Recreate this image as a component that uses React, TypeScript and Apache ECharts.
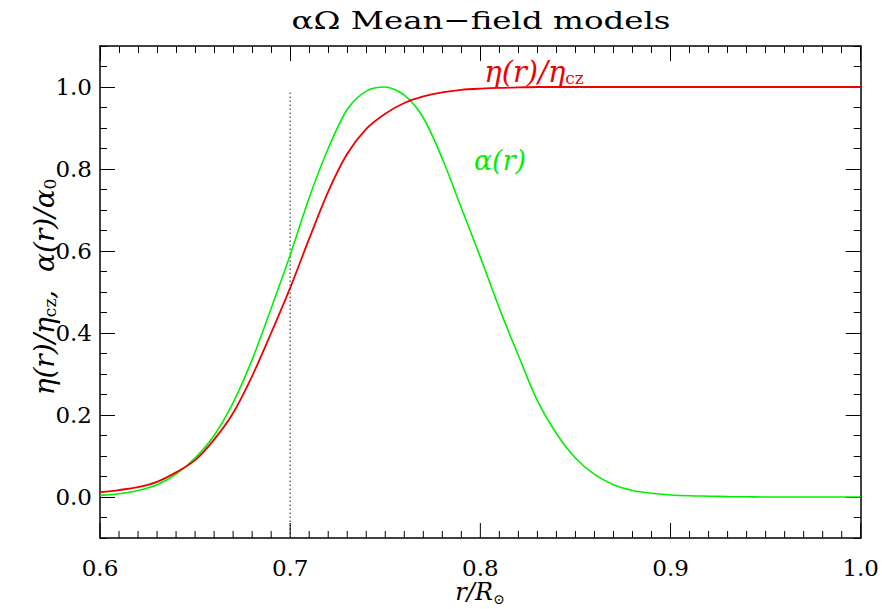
import React, { useEffect, useRef } from "react";
import * as echarts from "echarts";

const R = [
  0.6, 0.61, 0.62, 0.63, 0.64, 0.65, 0.66, 0.67, 0.68, 0.69, 0.7, 0.71, 0.72, 0.73, 0.74, 0.75, 0.76, 0.77, 0.78, 0.79,
  0.8, 0.81, 0.82, 0.83, 0.84, 0.85, 0.86, 0.87, 0.88, 0.89, 0.9, 0.91, 0.92, 0.93, 0.94, 0.95, 0.96, 0.97, 0.98, 0.99, 1.0,
];
const ETA = [
  0.012, 0.017, 0.024, 0.037, 0.06, 0.09, 0.14, 0.205, 0.295, 0.4, 0.51, 0.63, 0.745, 0.837, 0.898, 0.935, 0.961, 0.977, 0.987, 0.993,
  0.996, 0.998, 0.999, 1.0, 1.0, 1.0, 1.0, 1.0, 1.0, 1.0, 1.0, 1.0, 1.0, 1.0, 1.0, 1.0, 1.0, 1.0, 1.0, 1.0, 1.0,
];
const ALPHA = [
  0.004, 0.008, 0.016, 0.03, 0.056, 0.095, 0.15, 0.23, 0.335, 0.46, 0.59, 0.73, 0.85, 0.945, 0.99, 1.0, 0.98, 0.925, 0.825, 0.705,
  0.585, 0.46, 0.345, 0.235, 0.155, 0.095, 0.055, 0.03, 0.016, 0.009, 0.005, 0.003, 0.002, 0.001, 0.0005, 0, 0, 0, 0, 0, 0,
];
const Y_LABELS = [0, 0.2, 0.4, 0.6, 0.8, 1.0];
const X_MAJOR_TICKS = [0.6, 0.7, 0.8, 0.9, 1.0];
const X_MINOR_TICKS = [
  0.61, 0.62, 0.63, 0.64, 0.65, 0.66, 0.67, 0.68, 0.69, 0.71, 0.72, 0.73, 0.74, 0.75, 0.76, 0.77, 0.78, 0.79,
  0.81, 0.82, 0.83, 0.84, 0.85, 0.86, 0.87, 0.88, 0.89, 0.91, 0.92, 0.93, 0.94, 0.95, 0.96, 0.97, 0.98, 0.99,
];
const Y_MIN = -0.1;
const Y_MAX = 1.1;
const DIVIDER_R = [0.7, 0.7];
const DIVIDER_V = [-0.1, 0.99];

const SERIF = "DejaVu Serif";
const RED = "#f00000";
const GREEN = "#00f000";

export default function App() {
  const ref = useRef<HTMLDivElement>(null);
  useEffect(() => {
    if (!ref.current) return;
    const chart = echarts.init(ref.current, null, { renderer: "svg" });
    const xTop = {
      type: "value",
      position: "top",
      min: 0.6,
      max: 1.0,
      interval: 0.1,
      axisLine: { show: true, onZero: false, lineStyle: { color: "#000", width: 1.5 } },
      axisTick: { show: true, inside: true, length: 15, lineStyle: { color: "#000" } },
      minorTick: { show: true, splitNumber: 10, length: 7, lineStyle: { color: "#000" } },
      splitLine: { show: false },
      axisLabel: { show: false },
    };
    const xLabels = {
      type: "value",
      position: "bottom",
      min: 0.6,
      max: 1.0,
      interval: 0.1,
      axisLine: { show: true, onZero: false, lineStyle: { color: "#000", width: 1.5 } },
      axisTick: { show: false },
      splitLine: { show: false },
      axisLabel: {
        show: true,
        formatter: (v: number) => v.toFixed(1),
        fontFamily: SERIF,
        fontSize: 23,
        color: "#000",
        margin: 18,
      },
    };
    const yMajor = (pos: string, showLabel: boolean) => ({
      type: "value",
      position: pos,
      min: Y_MIN,
      max: Y_MAX,
      axisLine: { show: true, lineStyle: { color: "#000", width: 1.5 } },
      axisTick: { show: true, inside: true, length: 15, lineStyle: { color: "#000" }, customValues: Y_LABELS },
      splitLine: { show: false },
      axisLabel: {
        show: showLabel,
        customValues: Y_LABELS,
        formatter: (v: number) => v.toFixed(1),
        fontFamily: SERIF,
        fontSize: 23,
        color: "#000",
        margin: 8,
      },
    });
    const yMinor = (pos: string) => ({
      type: "value",
      position: pos,
      min: Y_MIN,
      max: Y_MAX,
      interval: 0.05,
      axisLine: { show: false },
      axisTick: { show: true, inside: true, length: 7, lineStyle: { color: "#000" } },
      splitLine: { show: false },
      axisLabel: { show: false },
    });
    // bottom-frame ticks, placed through the x scale at y = Y_MIN
    const bottomTicks = (values: number[], len: number) => ({
      type: "custom",
      xAxisIndex: 0,
      yAxisIndex: 0,
      silent: true,
      clip: false,
      z: 5,
      data: values.map((v) => [v, Y_MIN]),
      renderItem: (_params: any, api: any) => {
        const p = api.coord([api.value(0), api.value(1)]);
        return {
          type: "line",
          shape: { x1: p[0], y1: p[1], x2: p[0], y2: p[1] - len },
          style: { stroke: "#000", lineWidth: 1 },
        };
      },
    });
    const sub = { fontFamily: SERIF, fontSize: 17, padding: [12, 0, 0, 0] };
    chart.setOption({
      animation: false,
      backgroundColor: "#fff",
      grid: { left: 100, right: 21, top: 46, bottom: 71, containLabel: false },
      xAxis: [xLabels, xTop],
      yAxis: [yMajor("left", true), yMinor("left"), yMajor("right", false), yMinor("right")],
      series: [
        {
          type: "line",
          xAxisIndex: 0,
          yAxisIndex: 0,
          data: DIVIDER_R.map((r, i) => [r, DIVIDER_V[i]]),
          showSymbol: false,
          symbol: "none",
          lineStyle: { color: "#666", width: 1.5, type: [1.5, 2.5] },
          silent: true,
        },
        {
          type: "line",
          xAxisIndex: 0,
          yAxisIndex: 0,
          data: R.map((r, i) => [r, ALPHA[i]]),
          showSymbol: false,
          symbol: "none",
          smooth: 0.3,
          lineStyle: { color: GREEN, width: 1.6 },
        },
        {
          type: "line",
          xAxisIndex: 0,
          yAxisIndex: 0,
          data: R.map((r, i) => [r, ETA[i]]),
          showSymbol: false,
          symbol: "none",
          smooth: 0.3,
          lineStyle: { color: RED, width: 1.8 },
        },
        bottomTicks(X_MAJOR_TICKS, 15),
        bottomTicks(X_MINOR_TICKS, 7),
      ],
      graphic: [
        {
          type: "text",
          x: 481,
          y: 20,
          scaleX: 1.3,
          style: {
            text: "αΩ Mean−field models",
            fontFamily: SERIF,
            fontSize: 25,
            fill: "#000",
            align: "center",
            verticalAlign: "middle",
          },
        },
        {
          type: "text",
          x: 480,
          y: 592,
          style: {
            text: "{i|r/R}{s|⊙}",
            fill: "#000",
            align: "center",
            verticalAlign: "middle",
            rich: {
              i: { fontFamily: SERIF, fontStyle: "italic", fontSize: 24 },
              s: { fontFamily: SERIF, fontSize: 14, padding: [14, 0, 0, 0] },
            },
          },
        },
        {
          type: "text",
          x: 44,
          y: 287,
          rotation: Math.PI / 2,
          style: {
            text: "{i|η(r)/η}{s|cz}{i|,  α(r)/α}{s|0}",
            fill: "#000",
            align: "center",
            verticalAlign: "middle",
            rich: {
              i: { fontFamily: SERIF, fontStyle: "italic", fontSize: 28 },
              s: sub,
            },
          },
        },
        {
          type: "text",
          x: 534,
          y: 72,
          style: {
            text: "{i|η(r)/η}{s|cz}",
            fill: RED,
            align: "center",
            verticalAlign: "middle",
            rich: {
              i: { fontFamily: SERIF, fontStyle: "italic", fontSize: 29, fill: RED },
              s: { ...sub, fill: RED },
            },
          },
        },
        {
          type: "text",
          x: 500,
          y: 160,
          style: {
            text: "α(r)",
            fill: GREEN,
            fontFamily: SERIF,
            fontStyle: "italic",
            fontSize: 27,
            align: "center",
            verticalAlign: "middle",
          },
        },
      ],
    });
    return () => chart.dispose();
  }, []);
  return (
    <div
      ref={ref}
      style={{ position: "fixed", left: 0, top: 0, width: 882, height: 609, background: "#fff" }}
    />
  );
}
